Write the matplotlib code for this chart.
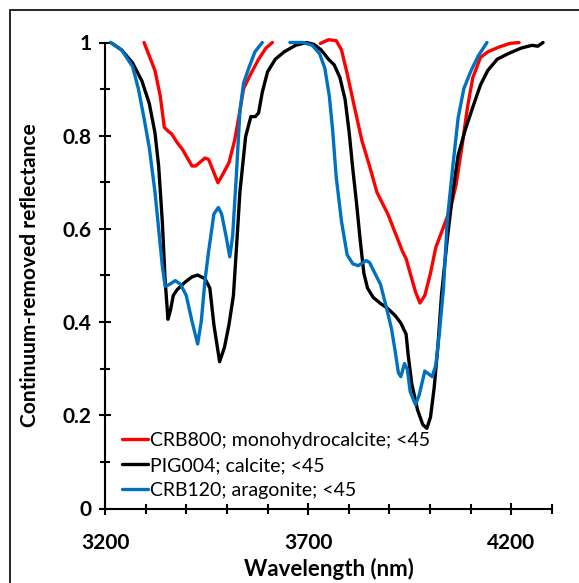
import numpy as np
import matplotlib
matplotlib.use("Agg")
import matplotlib.pyplot as plt
from matplotlib.patches import Rectangle
from matplotlib.ticker import MultipleLocator

# CRB800; monohydrocalcite (two segments, gap in between)
red_x = [3296, 3323, 3336, 3346, 3355, 3364, 3377, 3391, 3414, 3423, 3446, 3455,
         3467, 3478, 3491, 3505, 3519, 3532, 3541, 3559, 3578, 3596, 3612,
         np.nan,
         3730, 3750, 3769, 3782, 3796, 3814, 3832, 3851, 3869, 3878, 3896, 3914,
         3932, 3941, 3951, 3964, 3975, 3987, 4001, 4014, 4033, 4051, 4064, 4078,
         4092, 4105, 4124, 4142, 4169, 4196, 4219]
red_y = [1.0, 0.94, 0.885, 0.818, 0.81, 0.804, 0.786, 0.77, 0.735, 0.735, 0.752, 0.749,
         0.723, 0.699, 0.719, 0.742, 0.79, 0.853, 0.901, 0.933, 0.964, 0.988, 1.0,
         np.nan,
         0.998, 1.006, 1.004, 0.984, 0.933, 0.861, 0.79, 0.735, 0.679, 0.663, 0.632, 0.592,
         0.552, 0.536, 0.505, 0.465, 0.441, 0.457, 0.505, 0.56, 0.604, 0.647, 0.695, 0.774,
         0.861, 0.924, 0.968, 0.98, 0.99, 0.998, 1.0]

# PIG004; calcite
blk_x = [3214, 3241, 3268, 3291, 3309, 3323, 3332, 3341, 3348, 3355, 3361, 3368,
         3377, 3396, 3414, 3428, 3446, 3458, 3468, 3482, 3494, 3505, 3516, 3523,
         3532, 3546, 3559, 3570, 3578, 3587, 3600, 3619, 3641, 3669, 3696, 3714,
         3732, 3750, 3764, 3778, 3791, 3801, 3810, 3819, 3828, 3837, 3846, 3860,
         3878, 3896, 3914, 3928, 3941, 3946, 3955, 3969, 3982, 3992, 4001, 4010,
         4019, 4028, 4042, 4056, 4069, 4087, 4105, 4124, 4142, 4165, 4192, 4224,
         4251, 4265, 4278]
blk_y = [1.0, 0.984, 0.956, 0.917, 0.869, 0.806, 0.735, 0.616, 0.489, 0.406, 0.425, 0.457,
         0.469, 0.485, 0.497, 0.501, 0.493, 0.473, 0.394, 0.315, 0.346, 0.394, 0.457, 0.552,
         0.679, 0.798, 0.841, 0.841, 0.849, 0.893, 0.937, 0.964, 0.98, 0.994, 1.0, 0.996,
         0.984, 0.964, 0.952, 0.925, 0.877, 0.806, 0.727, 0.655, 0.576, 0.505, 0.473, 0.453,
         0.44, 0.429, 0.414, 0.398, 0.374, 0.33, 0.267, 0.212, 0.18, 0.172, 0.196, 0.259,
         0.346, 0.457, 0.576, 0.679, 0.758, 0.814, 0.861, 0.909, 0.94, 0.964, 0.976, 0.988,
         0.994, 0.992, 1.0]

# CRB120; aragonite (two segments)
blu_x = [3214, 3241, 3268, 3282, 3296, 3309, 3323, 3332, 3341, 3348, 3359, 3373,
         3386, 3400, 3414, 3428, 3437, 3446, 3455, 3468, 3479, 3487, 3498, 3507,
         3514, 3523, 3532, 3541, 3555, 3569, 3587,
         np.nan,
         3655, 3687, 3710, 3728, 3741, 3752, 3760, 3769, 3782, 3796, 3810, 3823,
         3842, 3851, 3864, 3878, 3892, 3905, 3914, 3922, 3928, 3937, 3944, 3951,
         3964, 3973, 3987, 3996, 4005, 4014, 4023, 4033, 4042, 4056, 4069, 4083,
         4101, 4119, 4140]
blu_y = [1.0, 0.984, 0.948, 0.901, 0.838, 0.774, 0.679, 0.6, 0.521, 0.477, 0.481, 0.489,
         0.481, 0.457, 0.402, 0.353, 0.402, 0.489, 0.552, 0.632, 0.646, 0.632, 0.584, 0.54,
         0.584, 0.711, 0.853, 0.913, 0.948, 0.98, 1.0,
         np.nan,
         1.0, 1.0, 0.994, 0.976, 0.945, 0.885, 0.814, 0.711, 0.616, 0.544, 0.525, 0.521,
         0.532, 0.528, 0.505, 0.481, 0.433, 0.386, 0.338, 0.291, 0.283, 0.311, 0.299, 0.251,
         0.223, 0.243, 0.295, 0.289, 0.283, 0.307, 0.378, 0.473, 0.616, 0.735, 0.838, 0.901,
         0.94, 0.972, 1.0]

labels = ["CRB800; monohydrocalcite; <45", "PIG004; calcite; <45", "CRB120; aragonite; <45"]
xticks = [3200, 3700, 4200]
yticks = [0, 0.2, 0.4, 0.6, 0.8, 1.0]
ytick_labels = ['0', '0.2', '0.4', '0.6', '0.8', '1']

plt.rcParams['font.family'] = ['Lato', 'DejaVu Sans']

fig = plt.figure(figsize=(5.79, 5.83), dpi=100)
fig.patches.append(Rectangle((10 / 579, -0.1), 1.2, (583 - 10) / 583 + 0.1,
                             transform=fig.transFigure, fill=False,
                             edgecolor='black', linewidth=1.2))
ax = fig.add_axes([105 / 579, 74.5 / 583, 447 / 579, 466 / 583])

kw = dict(lw=2.4, clip_on=False, solid_joinstyle='round', solid_capstyle='round')
ax.plot(red_x, red_y, color='#FF0000', label=labels[0], **kw)
ax.plot(blk_x, blk_y, color='black', label=labels[1], **kw)
ax.plot(blu_x, blu_y, color='#0070C0', label=labels[2], **kw)

ax.set_xlim(3200, 4300)
ax.set_ylim(0, 1)
ax.set_xticks(xticks)
ax.xaxis.set_minor_locator(MultipleLocator(100))
ax.set_yticks(yticks)
ax.set_yticklabels(ytick_labels)
ax.yaxis.set_minor_locator(MultipleLocator(0.1))

for s in ['top', 'right']:
    ax.spines[s].set_visible(False)
for s in ['left', 'bottom']:
    ax.spines[s].set_linewidth(1.5)
ax.tick_params(which='major', direction='inout', length=9, width=1.5,
               labelsize=15, pad=5)
ax.tick_params(axis='x', which='major', pad=13)
ax.tick_params(which='minor', direction='inout', length=7, width=1.5)
for t in ax.get_xticklabels() + ax.get_yticklabels():
    t.set_fontweight('bold')

ax.set_xlabel('Wavelength (nm)', fontsize=16, fontweight='bold', labelpad=4)
ax.set_ylabel('Continuum-removed reflectance', fontsize=15, fontweight='bold', labelpad=16)

ax.legend(loc='lower left', bbox_to_anchor=(0.012, -0.005), frameon=False,
          fontsize=14, handlelength=1.35, handletextpad=0.1,
          labelspacing=0.42, borderaxespad=0.2)

fig.savefig('out.png', dpi=100)
